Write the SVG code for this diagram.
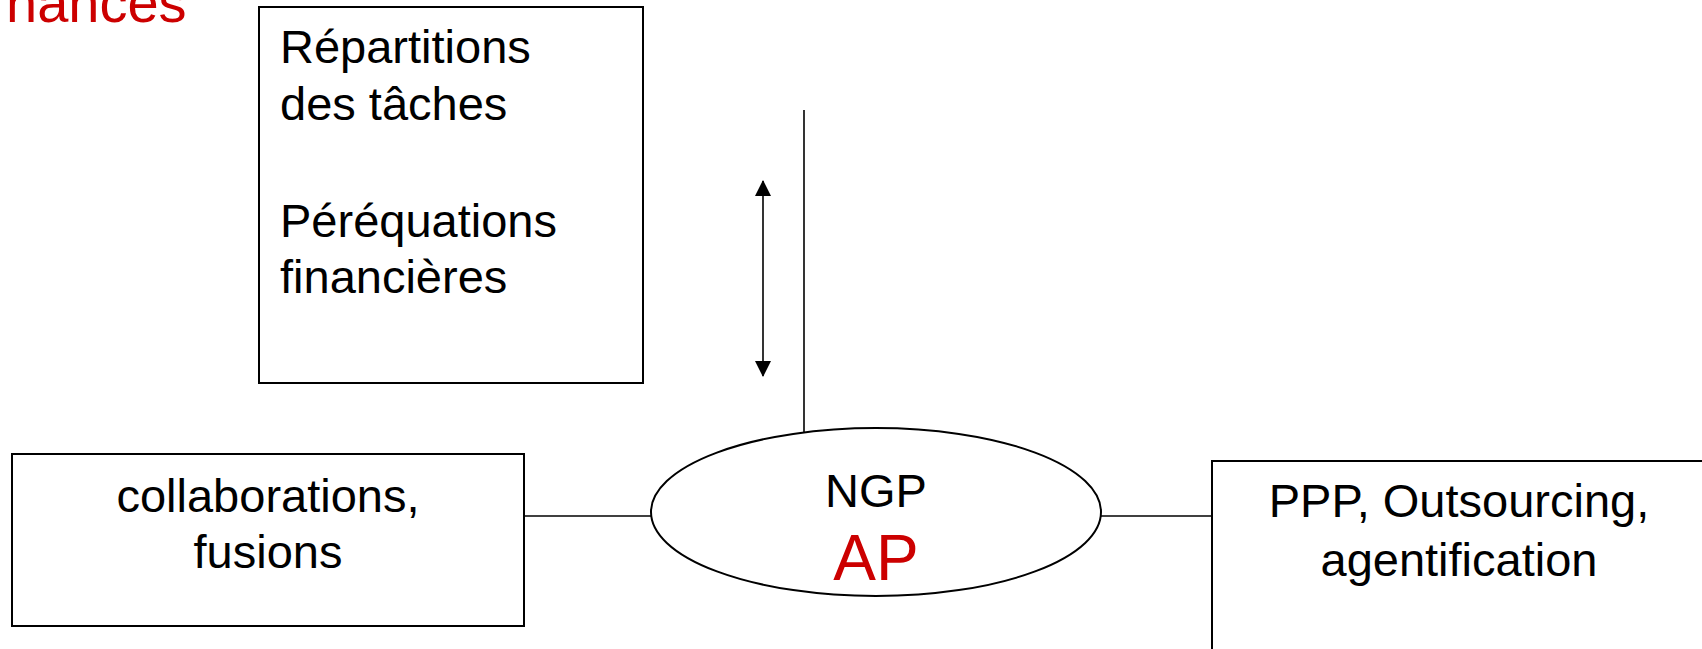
<svg xmlns="http://www.w3.org/2000/svg" width="1702" height="649" viewBox="0 0 1702 649">
<style>
.box{fill:#fff;stroke:#000;stroke-width:2}
.ell{fill:#fff;stroke:#000;stroke-width:2}
.ln{fill:none;stroke:#000;stroke-width:1.6}
.t{font-family:"Liberation Sans",Arial,sans-serif;font-size:47px;fill:#000}
.red{fill:#cc0000}
.mid{text-anchor:middle}
</style>
<defs>
<marker id="ah" markerUnits="userSpaceOnUse" markerWidth="16" markerHeight="16" viewBox="0 0 16 16" refX="15" refY="8" orient="auto-start-reverse">
<path d="M0,0 L16,8 L0,16 Z" fill="#000"/>
</marker>
</defs>
<text class="t red" x="6" y="22" style="font-size:56px">nances</text>
<g id="connectors">
<line class="ln" x1="804" y1="110" x2="804" y2="432"/>
<line class="ln" x1="763" y1="181" x2="763" y2="376" marker-start="url(#ah)" marker-end="url(#ah)"/>
<line class="ln" x1="524" y1="516" x2="652" y2="516"/>
<line class="ln" x1="1101" y1="516" x2="1212" y2="516"/>
</g>
<g id="taches">
<rect class="box" x="259" y="7" width="384" height="376"/>
<text class="t" x="280" y="63">Répartitions</text>
<text class="t" x="280" y="120">des tâches</text>
<text class="t" x="280" y="237">Péréquations</text>
<text class="t" x="280" y="293">financières</text>
</g>
<g id="collab">
<rect class="box" x="12" y="454" width="512" height="172"/>
<text class="t mid" x="268" y="512">collaborations,</text>
<text class="t mid" x="268" y="568">fusions</text>
</g>
<g id="ngp">
<ellipse class="ell" cx="876" cy="512" rx="225" ry="84"/>
<text class="t mid" x="876" y="507">NGP</text>
<text class="t mid red" x="876" y="580" style="font-size:64px">AP</text>
</g>
<g id="ppp">
<rect class="box" x="1212" y="461" width="500" height="200"/>
<text class="t mid" x="1459" y="517">PPP, Outsourcing,</text>
<text class="t mid" x="1459" y="576">agentification</text>
</g>
</svg>
